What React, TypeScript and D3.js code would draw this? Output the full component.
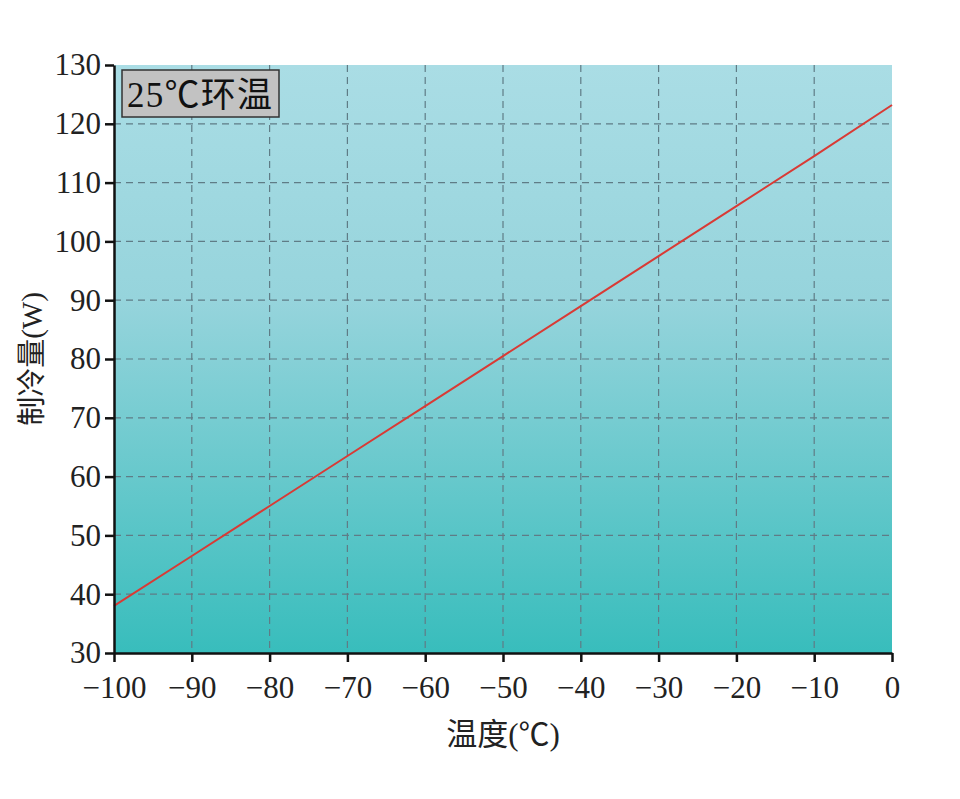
import React, { useRef, useEffect } from 'react';
import * as d3 from 'd3';

const temps = [-100, -90, -80, -70, -60, -50, -40, -30, -20, -10, 0];
const capacity = [38, 46.5, 55, 63.5, 72, 80.5, 89, 97.5, 106, 114.5, 123.2];
const xTicks = [-100, -90, -80, -70, -60, -50, -40, -30, -20, -10, 0];
const yTicks = [30, 40, 50, 60, 70, 80, 90, 100, 110, 120, 130];
const legendLabel = '25℃环温';
const xLabel = '温度(℃)';
const yLabel = '制冷量(W)';

const serif = '"Liberation Serif", "Noto Sans CJK SC", serif';

function App() {
  const svgRef = useRef(null);

  useEffect(() => {
    const svg = d3.select(svgRef.current);
    svg.selectAll('*').remove();

    const width = 960;
    const height = 799;
    const margin = { top: 65, right: 68, bottom: 146, left: 114 };

    const x = d3.scaleLinear()
      .domain([-100, 0])
      .range([margin.left, width - margin.right]);

    const y = d3.scaleLinear()
      .domain([30, 130])
      .range([height - margin.bottom, margin.top]);

    const defs = svg.append('defs');
    const grad = defs.append('linearGradient')
      .attr('id', 'bg')
      .attr('x1', 0).attr('y1', 0).attr('x2', 0).attr('y2', 1);
    grad.append('stop').attr('offset', '0%').attr('stop-color', '#aadde5');
    grad.append('stop').attr('offset', '40%').attr('stop-color', '#96d4dc');
    grad.append('stop').attr('offset', '100%').attr('stop-color', '#38bdbc');

    svg.append('rect')
      .attr('x', x(-100))
      .attr('y', y(130))
      .attr('width', x(0) - x(-100))
      .attr('height', y(30) - y(130))
      .attr('fill', 'url(#bg)');

    // grid
    const grid = svg.append('g')
      .attr('stroke', '#5f7c86')
      .attr('stroke-width', 1.2)
      .attr('stroke-dasharray', '7 5');
    grid.selectAll('.gx')
      .data(xTicks.slice(1, -1))
      .enter().append('line')
      .attr('x1', d => x(d)).attr('x2', d => x(d))
      .attr('y1', y(130)).attr('y2', y(30));
    grid.selectAll('.gy')
      .data(yTicks.slice(1, -1))
      .enter().append('line')
      .attr('x1', x(-100)).attr('x2', x(0))
      .attr('y1', d => y(d)).attr('y2', d => y(d));

    // line
    const line = d3.line()
      .x((d, i) => x(temps[i]))
      .y(d => y(d));
    svg.append('path')
      .datum(capacity)
      .attr('fill', 'none')
      .attr('stroke', '#d93a35')
      .attr('stroke-width', 2)
      .attr('d', line);

    // axes
    const xAxis = svg.append('g')
      .attr('transform', `translate(0,${y(30)})`)
      .call(d3.axisBottom(x).tickValues(xTicks).tickSize(9).tickSizeOuter(0)
        .tickFormat(d => (d < 0 ? '\u2212' + Math.abs(d) : String(d))));
    xAxis.select('.domain').attr('stroke', '#111').attr('stroke-width', 2.5);
    xAxis.selectAll('.tick line').attr('stroke', '#111').attr('stroke-width', 2.5);
    xAxis.selectAll('.tick text')
      .attr('font-family', serif)
      .attr('font-size', 31)
      .attr('fill', '#222')
      .attr('y', 20)
      .attr('dy', '0.8em');

    const yAxis = svg.append('g')
      .attr('transform', `translate(${x(-100)},0)`)
      .call(d3.axisLeft(y).tickValues(yTicks).tickSize(9).tickSizeOuter(0));
    yAxis.select('.domain').attr('stroke', '#111').attr('stroke-width', 2.5);
    yAxis.selectAll('.tick line').attr('stroke', '#111').attr('stroke-width', 2.5);
    yAxis.selectAll('.tick text')
      .attr('font-family', serif)
      .attr('font-size', 31)
      .attr('fill', '#222')
      .attr('x', -13);

    // axis labels
    svg.append('text')
      .attr('x', (x(-100) + x(0)) / 2)
      .attr('y', 745)
      .attr('text-anchor', 'middle')
      .attr('font-family', serif)
      .attr('font-size', 31)
      .attr('fill', '#222')
      .text(xLabel);

    svg.append('text')
      .attr('transform', `translate(42,${(y(30) + y(130)) / 2}) rotate(-90)`)
      .attr('text-anchor', 'middle')
      .attr('font-family', serif)
      .attr('font-size', 29)
      .attr('fill', '#222')
      .text(yLabel);

    // legend box
    const lg = svg.append('g');
    lg.append('rect')
      .attr('x', x(-100) + 8)
      .attr('y', y(130) + 5)
      .attr('width', 157)
      .attr('height', 47)
      .attr('fill', '#c2c2c2')
      .attr('stroke', '#333')
      .attr('stroke-width', 1.5);
    lg.append('text')
      .attr('x', x(-100) + 13)
      .attr('y', y(130) + 42)
      .attr('font-family', serif)
      .attr('font-size', 35)
      .attr('textLength', 145)
      .attr('fill', '#111')
      .text(legendLabel);
  }, []);

  return (
    <svg
      ref={svgRef}
      width={960}
      height={799}
      style={{ position: 'absolute', left: 0, top: 0, background: '#fff' }}
    />
  );
}

export default App;
